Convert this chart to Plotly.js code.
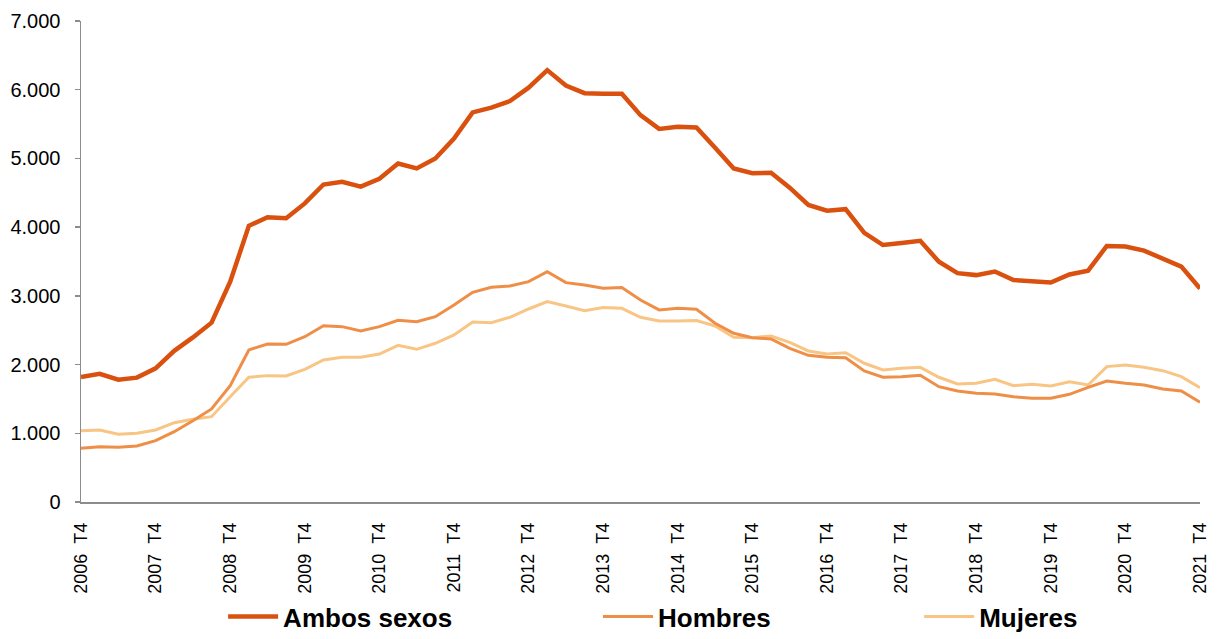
<!DOCTYPE html>
<html>
<head>
<meta charset="utf-8">
<script src="https://cdn.plot.ly/plotly-3.0.1.min.js"></script>
<style>html,body{margin:0;padding:0;background:#fff;}#chart{width:1219px;height:639px;}</style>
</head>
<body>
<div id="chart"></div>
<script>
var categories = [
  "2006 T4",
  "2007 T1","2007 T2","2007 T3","2007 T4",
  "2008 T1","2008 T2","2008 T3","2008 T4",
  "2009 T1","2009 T2","2009 T3","2009 T4",
  "2010 T1","2010 T2","2010 T3","2010 T4",
  "2011 T1","2011 T2","2011 T3","2011 T4",
  "2012 T1","2012 T2","2012 T3","2012 T4",
  "2013 T1","2013 T2","2013 T3","2013 T4",
  "2014 T1","2014 T2","2014 T3","2014 T4",
  "2015 T1","2015 T2","2015 T3","2015 T4",
  "2016 T1","2016 T2","2016 T3","2016 T4",
  "2017 T1","2017 T2","2017 T3","2017 T4",
  "2018 T1","2018 T2","2018 T3","2018 T4",
  "2019 T1","2019 T2","2019 T3","2019 T4",
  "2020 T1","2020 T2","2020 T3","2020 T4",
  "2021 T1","2021 T2","2021 T3","2021 T4"
];

var ambosSexos = [
  1820, 1865, 1780, 1810, 1945, 2200, 2395, 2610, 3205, 4020,
  4145, 4130, 4345, 4620, 4660, 4590, 4705, 4925, 4855, 5000,
  5290, 5670, 5740, 5835, 6030, 6285, 6060, 5950, 5940, 5940,
  5630, 5430, 5460, 5450, 5155, 4855, 4785, 4790, 4575, 4322,
  4240, 4262, 3918, 3740, 3770, 3802, 3496, 3330, 3302, 3354,
  3230, 3218, 3194, 3312, 3366, 3726, 3718, 3658, 3548, 3426,
  3108
];

var hombres = [
  781, 805, 796, 815, 892, 1023, 1183, 1354, 1693, 2213,
  2300, 2295, 2406, 2566, 2552, 2489, 2552, 2645, 2625, 2697,
  2868, 3052, 3125, 3144, 3207, 3352, 3192, 3159, 3110, 3120,
  2940, 2795, 2819, 2804, 2601, 2455, 2392, 2373, 2237, 2135,
  2106, 2100, 1907, 1815, 1824, 1844, 1678, 1616, 1582, 1572,
  1533, 1509, 1509, 1567, 1669, 1761, 1727, 1703, 1645, 1616,
  1451
];

var mujeres = [
  1038, 1048, 985, 1000, 1048, 1154, 1204, 1242, 1533, 1815,
  1839, 1834, 1931, 2067, 2106, 2106, 2154, 2280, 2222, 2310,
  2431, 2620, 2610, 2688, 2809, 2916, 2853, 2785, 2829, 2819,
  2688, 2635, 2635, 2640, 2562, 2397, 2392, 2416, 2324, 2198,
  2154, 2173, 2019, 1921, 1946, 1960, 1815, 1718, 1727, 1786,
  1693, 1713, 1688, 1751, 1703, 1970, 1994, 1960, 1911, 1824,
  1664
];

var tickCategories = ["2006 T4","2007 T4","2008 T4","2009 T4","2010 T4","2011 T4","2012 T4","2013 T4","2014 T4","2015 T4","2016 T4","2017 T4","2018 T4","2019 T4","2020 T4","2021 T4"];
var tickLabels = tickCategories.map(function(s){ return s.replace(" ", "\u00a0\u00a0"); });

var seriesNames = ["Ambos sexos", "Hombres", "Mujeres"];
var colors = ["#D9500F", "#EE8E47", "#F8C585"];

var legendFont = {family: "Liberation Sans Narrow, Arial Narrow, Liberation Sans, Arial, sans-serif", size: 26, color: "#000", weight: "bold"};

var traces = [
  {x: categories, y: mujeres, name: seriesNames[2], type: "scatter", mode: "lines",
   line: {color: colors[2], width: 3}, legend: "legend3"},
  {x: categories, y: hombres, name: seriesNames[1], type: "scatter", mode: "lines",
   line: {color: colors[1], width: 3}, legend: "legend2"},
  {x: categories, y: ambosSexos, name: seriesNames[0], type: "scatter", mode: "lines",
   line: {color: colors[0], width: 4.5}, legend: "legend"}
];

function leg(x) {
  return {x: x, xanchor: "left", y: 0.035, yref: "container", yanchor: "middle", orientation: "h",
          font: legendFont, itemwidth: 50, bgcolor: "rgba(0,0,0,0)", borderwidth: 0};
}

var layout = {
  width: 1219, height: 639,
  margin: {l: 81, r: 19, t: 21, b: 137},
  paper_bgcolor: "#fff", plot_bgcolor: "#fff",
  separators: ",.",
  showlegend: true,
  legend: leg(0.127),
  legend2: leg(0.462),
  legend3: leg(0.749),
  font: {family: "Liberation Sans, Arial, sans-serif", color: "#000"},
  xaxis: {
    type: "category", categoryorder: "array", categoryarray: categories,
    range: [0, 60], showgrid: false, zeroline: false, automargin: false,
    showline: true, linecolor: "#8c8c8c", linewidth: 1.5,
    tickmode: "array", tickvals: tickCategories, ticktext: tickLabels,
    tickangle: -90, ticks: "", ticklabelstandoff: 12,
    tickfont: {size: 18, color: "#000", family: "Liberation Sans, Arial, sans-serif"}
  },
  yaxis: {
    range: [0, 7000], dtick: 1000, tickformat: ",d", automargin: false,
    showgrid: false, zeroline: false,
    showline: true, linecolor: "#8c8c8c", linewidth: 1.5,
    ticks: "outside", ticklen: 5, tickcolor: "#8c8c8c", tickwidth: 1.5,
    ticklabelstandoff: 10,
    tickfont: {size: 20, color: "#000", family: "Liberation Sans, Arial, sans-serif"}
  }
};

Plotly.newPlot("chart", traces, layout, {displayModeBar: false, staticPlot: true});
</script>
</body>
</html>
